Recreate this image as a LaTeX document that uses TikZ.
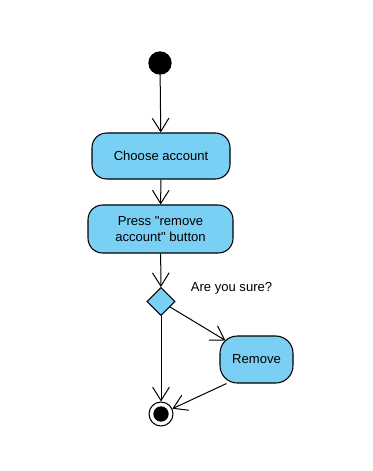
\documentclass[tikz,border=0pt]{standalone}
\usepackage{fontspec}
\setmainfont{Liberation Sans}
\usetikzlibrary{arrows.meta, shapes.geometric}

\definecolor{actblue}{RGB}{121,207,244}

\tikzset{
  action/.style={draw, thick, fill=actblue, rounded corners=11pt, align=center, inner sep=0pt},
  initial/.style={circle, fill=black, minimum size=17.5pt, inner sep=0pt},
  final/.style={circle, draw, thick, fill=white, minimum size=18pt, inner sep=0pt},
  finaldot/.style={circle, fill=black, minimum size=11.5pt, inner sep=0pt},
  decision/.style={diamond, draw, thick, fill=actblue, minimum width=21pt, minimum height=21pt, inner sep=0pt},
  flow/.style={-{Straight Barb[length=10pt, width=12.5pt]}, line width=0.75pt}
}

\begin{document}
\begin{tikzpicture}[x=0.75pt, y=-0.75pt, font=\fontsize{9.8}{12}\selectfont]
\useasboundingbox (0,0) rectangle (372,471);

% start and end points
\node[initial] (start) at (160,63) {};
\node[final] (fin) at (161,414) {};
\node[finaldot] (findot) at (fin.center) {};

% activities
\node[action, minimum width=103.5pt, minimum height=34.5pt] (choose) at (161,156) {Choose account};
\node[action, minimum width=108.75pt, minimum height=36pt] (press) at (160.5,229) {Press \textquotedbl remove\\account\textquotedbl{} button};
\node[action, rounded corners=13pt, minimum width=54.75pt, minimum height=35.25pt] (rem) at (256.5,359.5) {Remove};

% the question
\node[decision] (dec) at (161,301.5) {};
\node (ask) at (231.5,288) {Are you sure?};

% points on the rounded corners of the remove box
\coordinate (remin) at ([shift={(6,5)}]rem.north west);
\coordinate (remout) at ([shift={(7,0)}]rem.south west);

% flows
\draw[flow] (start) -- (choose);
\draw[flow] (choose) -- (press);
\draw[flow] (press) -- (dec);
\draw[flow] (dec) -- (fin);
\draw[flow] (dec) -- (remin);
\draw[flow] (remout) -- (fin);

\end{tikzpicture}
\end{document}
